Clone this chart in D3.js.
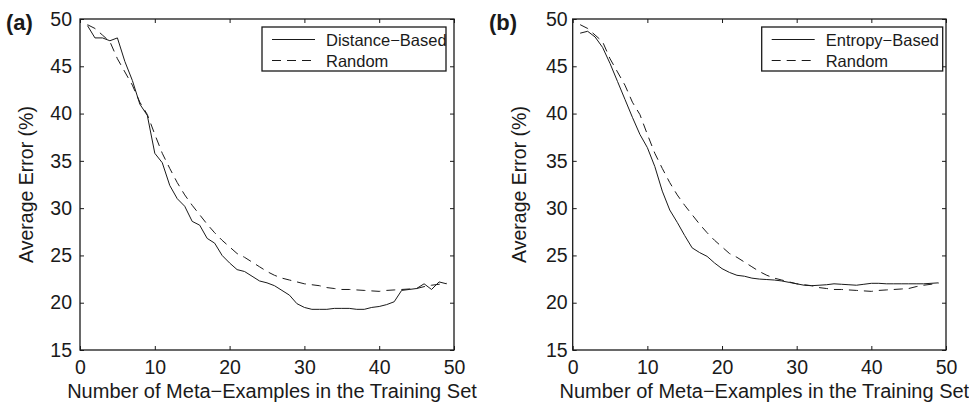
<!DOCTYPE html>
<html>
<head>
<meta charset="utf-8">
<script src="https://cdn.jsdelivr.net/npm/d3@7"></script>
<style>
  body { margin: 0; background: #fff; }
  text { font-family: "Liberation Sans", Arial, sans-serif; fill: #1a1a1a; }
</style>
</head>
<body>
<svg id="svg_chart" width="969" height="405"></svg>
<script>

// data
const trainSize = [1,2,3,4,5,6,7,8,9,10,11,12,13,14,15,16,17,18,19,20,21,22,23,24,25,
  26,27,28,29,30,31,32,33,34,35,36,37,38,39,40,41,42,43,44,45,46,47,48,49];

const distanceErr = [49.3,48.0,48.0,47.7,48.0,45.5,43.5,41.0,39.8,35.8,34.8,32.4,31.0,30.2,28.6,
  28.2,26.8,26.3,25.0,24.2,23.5,23.3,22.8,22.3,22.1,21.8,21.3,20.8,19.9,19.5,19.3,19.3,19.3,19.4,
  19.4,19.4,19.3,19.3,19.5,19.6,19.8,20.1,21.3,21.4,21.5,22.0,21.4,22.2,22.0];

const entropyErr = [48.5,48.7,48.1,47.0,45.3,43.4,41.5,39.6,37.8,36.4,34.4,31.8,29.8,28.5,27.1,
  25.8,25.3,24.9,24.2,23.6,23.2,22.9,22.8,22.6,22.5,22.45,22.4,22.3,22.15,22.0,21.85,21.8,21.85,
  21.9,22.0,21.95,21.9,21.85,21.95,22.05,22.05,22.0,22.0,22.0,22.0,22.0,22.0,22.05,22.1];

const randomErr = [49.4,49.0,48.3,47.6,45.8,44.4,43.0,41.2,39.9,37.8,35.8,34.2,32.7,31.4,30.3,
  29.3,28.3,27.4,26.6,25.9,25.2,24.8,24.3,23.8,23.3,22.9,22.6,22.4,22.2,22.0,21.9,21.8,21.6,21.5,
  21.4,21.4,21.35,21.3,21.25,21.2,21.3,21.35,21.4,21.45,21.5,21.7,21.85,21.95,22.05];

const xTicks = [0, 10, 20, 30, 40, 50];
const yTicks = [15, 20, 25, 30, 35, 40, 45, 50];

const svg = d3.select('#svg_chart');
const ink = '#1a1a1a';

function drawPanel(opts) {
  const left = opts.left, right = opts.right,
    top = 19, bottom = 350;

  const x = d3.scaleLinear().domain([0, 50]).range([left, right]);
  const y = d3.scaleLinear().domain([15, 50]).range([bottom, top]);

  const g = svg.append('g').attr('class', 'panel');

  // axes, ticks pointing inward like matlab
  const axB = g.append('g')
    .attr('transform', `translate(0,${bottom})`)
    .call(d3.axisBottom(x).tickValues(xTicks).tickSize(-4).tickPadding(10));
  const axT = g.append('g')
    .attr('transform', `translate(0,${top})`)
    .call(d3.axisTop(x).tickValues(xTicks).tickSize(-4).tickFormat(''));
  const axL = g.append('g')
    .attr('transform', `translate(${left},0)`)
    .call(d3.axisLeft(y).tickValues(yTicks).tickSize(-4).tickPadding(opts.yPad));
  const axR = g.append('g')
    .attr('transform', `translate(${right},0)`)
    .call(d3.axisRight(y).tickValues(yTicks).tickSize(-4).tickFormat(''));

  [axB, axT, axL, axR].forEach(a => {
    a.select('.domain').remove();
    a.selectAll('.tick line').attr('stroke', ink).attr('stroke-width', 1);
    a.selectAll('.tick text')
      .style('font-size', '19.5px')
      .attr('fill', ink);
  });

  // box
  g.append('rect')
    .attr('x', left).attr('y', top)
    .attr('width', right - left).attr('height', bottom - top)
    .attr('fill', 'none')
    .attr('stroke', ink)
    .attr('stroke-width', 1.3);

  const line = d3.line()
    .x((d, i) => x(trainSize[i]))
    .y(d => y(d));

  g.append('path')
    .datum(opts.series)
    .attr('d', line)
    .attr('fill', 'none')
    .attr('stroke', ink)
    .attr('stroke-width', 1);

  g.append('path')
    .datum(randomErr)
    .attr('d', line)
    .attr('fill', 'none')
    .attr('stroke', ink)
    .attr('stroke-width', 1)
    .attr('stroke-dasharray', '9,6');

  // legend
  const lg = g.append('g')
    .attr('transform', `translate(${opts.legX},27)`);
  lg.append('rect')
    .attr('width', opts.legW).attr('height', 44)
    .attr('fill', '#fff')
    .attr('stroke', ink)
    .attr('stroke-width', 1.3);
  const rows = [[opts.name, null], ['Random', '9,6']];
  rows.forEach((r, i) => {
    const yy = 12.5 + i * 21;
    lg.append('line')
      .attr('x1', 10).attr('x2', 53)
      .attr('y1', yy).attr('y2', yy)
      .attr('stroke', ink)
      .attr('stroke-width', 1)
      .attr('stroke-dasharray', r[1]);
    lg.append('text')
      .attr('x', 64).attr('y', yy + 6)
      .style('font-size', '16.5px')
      .text(r[0]);
  });

  // panel letter
  g.append('text')
    .attr('x', opts.letterX).attr('y', 30)
    .style('font-size', '22px')
    .style('font-weight', 'bold')
    .text(opts.letter);

  // axis titles
  g.append('text')
    .attr('x', (left + right) / 2 + 5).attr('y', 398)
    .attr('text-anchor', 'middle')
    .style('font-size', '20px')
    .text('Number of Meta\u2212Examples in the Training Set');

  g.append('text')
    .attr('transform', `translate(${left - 47},${(top + bottom) / 2}) rotate(-90)`)
    .attr('text-anchor', 'middle')
    .style('font-size', '19.5px')
    .text('Average Error (%)');
}

drawPanel({ left: 80, right: 454, yPad: 8, series: distanceErr, name: 'Distance\u2212Based',
  legX: 262, legW: 184, letter: '(a)', letterX: 6 });
drawPanel({ left: 572.7, right: 946, yPad: 5, series: entropyErr, name: 'Entropy\u2212Based',
  legX: 761.7, legW: 181, letter: '(b)', letterX: 489 });

</script>
</body>
</html>
